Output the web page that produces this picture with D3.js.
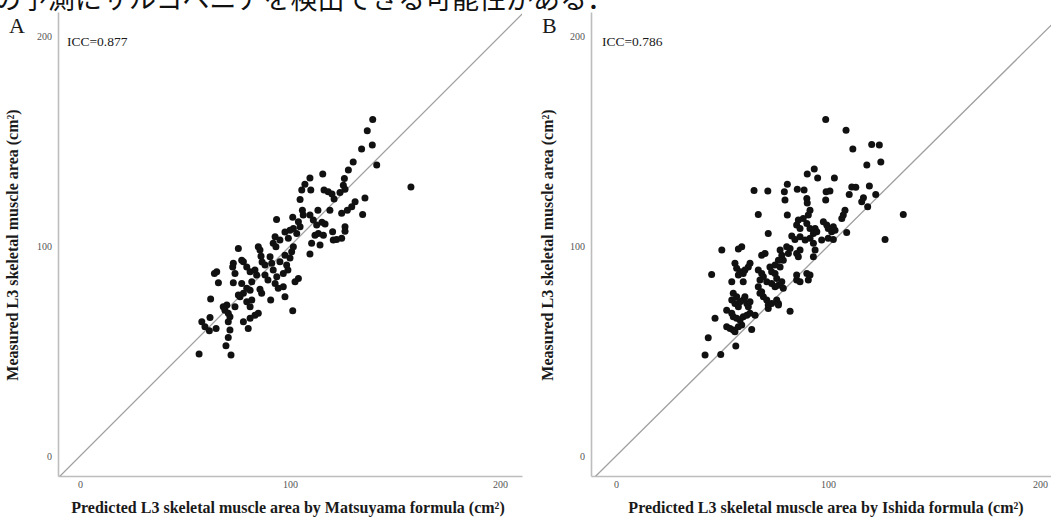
<!DOCTYPE html>
<html>
<head>
<meta charset="utf-8">
<script src="https://cdn.jsdelivr.net/npm/d3@7"></script>
<style>
body { margin: 0; background: #fff; }
svg { display: block; }
</style>
</head>
<body>
<svg id="chart" width="1051" height="519"></svg>
<script>
const caption = 'の予測にサルコペニアを検出できる可能性がある．'
const panelLetters = ['A', 'B']
const iccLabels = ['ICC=0.877', 'ICC=0.786']
const xTitles = [
	'Predicted L3 skeletal muscle area by Matsuyama formula (cm²)',
	'Predicted L3 skeletal muscle area by Ishida formula (cm²)'
]
const yTitle = 'Measured L3 skeletal muscle area (cm²)'
const tickValues = [0, 100, 200]

// [predicted, measured]
const matsuyama = [
	[139.4,160.3],[136.8,154.9],[139.2,148.1],[134.1,146.2],[141.3,138.6],[130.1,140.1],[127.8,136.2],[157.6,128.2],
	[115.6,134.3],[109.5,132.4],[107.1,129.5],[105.6,126.7],[109.9,126.7],[104.8,122.2],[125.9,132.2],[125.4,129],
	[126.2,127.1],[123.8,125.5],[116.2,126.7],[118.2,125.9],[120,124.8],[121,122.4],
	[135.7,122.9],[134.6,115],[131,121.1],[129.4,118.7],[127.3,117.1],[124.6,115.6],[119,117.1],[113.3,117.1],
	[105.9,117.1],[106.3,114.8],[101.3,113.7],[93.6,112.7],[109.5,114.8],[111.1,112.4],[112.7,110],[115.2,111.4],
	[116.7,110.5],[104,111.6],[104.8,109.2],[101.6,108.4],[103.2,106],[120.3,106.8],[120.6,102.9],[126.2,109.2],
	[126.2,107.1],[122.2,103.2],[124.6,103.7],[111.9,105.2],[113.5,106],[115.9,105.2],[114.3,100.5],[110.3,101.3],
	[109.5,96.2],[92.9,104.4],[92,101.3],[93.3,99.7],[99.2,103.7],[100.8,97.3],[101.6,99.7],[100,107.6],
	[97.6,106.7],[95.2,102.9],
	[84.9,99.7],[85.7,98.1],[86.2,95.2],[75.4,98.9],[90.5,94.9],[91.3,91.8],[95.2,92.5],[98.4,91],
	[96.8,87],[92,88.6],[93.7,85.4],[92.9,82.2],[94.4,79.9],[96.8,80.6],[97.6,75.9],[90.8,74.3],
	[86.5,77.5],[85.7,79.5],[104,84.6],[102.4,83],[88.1,86.2],[89.5,83.8],[83.3,88.6],[84.1,86.2],
	[81.8,83],[81,79],[73,91.8],[72.7,90],[73.8,87],[77.8,92.5],[79.4,90.1],[81,87.8],
	[77,93.3],[65.1,87.8],[64,87],[65.9,82.5],[73,82.5],[77,82.2],[79.4,79.9],[77.8,77.5],
	[76.2,75.9],[79.4,73.5],[81.8,74.3],[81,71.1],[62.2,74.8],[69.9,71.9],[69,69.5],[71.4,66.3],
	[73.8,71.1],[75.4,76.7],[84.9,68],[83.3,67.1],[81,65.6],[77.8,64],[80.1,60.8],[101.3,69.2],
	[61.9,66],[58,64],[59.5,61.6],[61.6,59.7],[64.8,60.8],[70.6,64],[71.4,60],[70.6,56.5],
	[69.5,52.5],[56.7,48.6],[71.9,48.1],[68.2,71.1],[70.6,68],
	[88.1,91],[86.7,92.4],[97.6,95.7],[100,94.3],[99,88.6]
]

const ishida = [
	[98.9,160.3],[108.5,155.2],[111.7,146.2],[120.6,148.4],[124.2,148.1],[124.9,140.1],[118.3,138.6],[135.5,115.1],
	[126.9,103.2],[93.5,136.7],[90.2,134.3],[95.1,132.4],[103,132.4],[80.8,129.5],[65.1,126.5],[71.6,126.3],
	[79.4,125.9],[79.7,121.9],[85.5,127.1],[88.7,126.7],[90,122.7],[90.2,120.5],[99.1,125.9],[100.9,126.3],
	[98.9,121.9],[111.2,128.2],[113.1,128],[119.5,128.6],[110,124.6],[116.7,123],[115.9,121.1],[118.7,118.7],
	[122.5,124.6],
	[67.1,115.1],[80.8,114.8],[91.5,117.1],[90.7,114.8],[88.3,113.2],[108,117.1],[107.2,114.8],[106.5,113.2],
	[86,112.4],[85.2,110],[86.8,108.4],[90,110.8],[91.5,108.4],[93.9,108.4],[94.7,106.8],[93.1,106],
	[97.8,111.6],[99.4,110],[100.1,108.4],[101.7,106.8],[103.3,107.6],[102.5,109.2],[108.8,106.5],[71.8,106],
	[82.9,104.8],[84.4,103.2],[86.8,104.4],[89.2,102.9],[91.5,103.7],[93.1,101.3],[93.9,98.1],[93.1,94.9],
	[97,102.9],[100.1,103.7],[102.5,103.2],[59.3,99.7],[57.7,98.6],[49.9,98.1],[68.7,95.7],[70.3,96.5],
	[77.4,98.1],[78.2,95.7],[78.9,93.3],[76.6,93.3],[75,91],[77.4,90.1],[80.5,99.7],[82.1,98.9],
	[81.3,96.5],[85.2,96.5],[86.8,98.1],[86,94.9],[56.1,91.8],[56.9,89.4],[58.5,87.8],[57.7,86.2],
	[63.2,91.8],[62.4,90.1],[60.8,88.6],[60,87],[45.1,86.5],[54.6,83],[60,83],[67.1,88.6],
	[68.7,87],[69.5,85.4],[67.9,83.8],[71.1,83],[72.6,90.1],[73.4,87.8],[75,87],[75.8,84.6],
	[73.4,82.2],[75,80.6],[76.6,81.4],[78.2,83],[78.9,79.9],[85.2,83.8],[86.8,83],[85.2,86.2],
	[90,87],[91.5,86.2],[90.7,83.8],
	[68.7,78.2],[69.5,75.9],[71.1,74.3],[71.8,71.9],[73.4,72.7],[75.8,74.3],[76.6,72.7],[67.1,80.6],
	[67.9,77.5],[71.8,70.3],[76.6,71.9],[82.1,69],[55.3,77.5],[56.9,75.9],[54.6,74.3],[56.1,72.7],
	[57.7,71.1],[58.5,73.5],[60,74.3],[61.7,72.7],[62.4,71.1],[63.2,73.5],[60.8,75.9],[52.2,69.5],
	[54.6,68],[55.3,66.3],[56.9,65.6],[58.5,64.8],[60,66.3],[61.7,67.1],[63.2,68],[65.6,67.1],
	[46.7,65.6],[52.2,61.6],[53.8,60.8],[55.3,60],[56.1,59.2],[57.7,61.6],[59.3,62.4],[64,60.3],
	[43.5,56.3],[56.5,52.4],[42,48.1],[49.4,48.4]
]

const plotTop = 12
const plotBottom = 476
const yDomain = [-9.5, 211.5]
const axisColor = '#bdbdbd'
const tickColor = '#555'
const textColor = '#1a1a1a'
const serif = '"Liberation Serif", "DejaVu Serif", serif'

const panels = [
	{ left: 58, right: 522, xDomain: [-10.5, 210.5], data: matsuyama, letterX: 9, iccX: 67, yTitleX: 18, xTitleX: 288 },
	{ left: 591, right: 1051.7, xDomain: [-11.8, 205.5], data: ishida, letterX: 542, iccX: 602, yTitleX: 553, xTitleX: 826 }
]

const svg = d3.select('#chart')

// cropped caption line from the page above the figure
svg.append('text')
	.attr('x', -6)
	.attr('y', 9)
	.attr('font-family', '"Noto Sans CJK JP", sans-serif')
	.attr('font-size', '27px')
	.attr('fill', '#111')
	.text(caption)

panels.forEach((p, i) => {
	const xScale = d3.scaleLinear().domain(p.xDomain).range([p.left, p.right])
	const yScale = d3.scaleLinear().domain(yDomain).range([plotBottom, plotTop])

	const g = svg.append('g').attr('class', 'panel')

	const xAxis = d3.axisBottom(xScale).tickValues(tickValues).tickSize(0).tickPadding(5)
	const yAxis = d3.axisLeft(yScale).tickValues(tickValues).tickSize(0).tickPadding(6)

	g.append('g')
		.attr('transform', `translate(0, ${plotBottom})`)
		.call(xAxis)
	g.append('g')
		.attr('transform', `translate(${p.left}, 0)`)
		.call(yAxis)

	g.selectAll('path.domain')
		.style('stroke', axisColor)
		.style('stroke-width', 1.6)
	g.selectAll('.tick text')
		.attr('font-family', serif)
		.attr('font-size', '10px')
		.attr('fill', tickColor)

	const clipId = 'clip' + i
	svg.append('clipPath').attr('id', clipId)
		.append('rect')
		.attr('x', p.left).attr('y', plotTop)
		.attr('width', p.right - p.left).attr('height', plotBottom - plotTop)

	// identity line
	const lo = Math.min(p.xDomain[0], yDomain[0])
	const hi = Math.max(p.xDomain[1], yDomain[1])
	g.append('line')
		.attr('clip-path', `url(#${clipId})`)
		.attr('x1', xScale(lo)).attr('y1', yScale(lo))
		.attr('x2', xScale(hi)).attr('y2', yScale(hi))
		.attr('stroke', '#a0a0a0')
		.attr('stroke-width', 1.3)

	g.selectAll('circle.pt')
		.data(p.data)
		.enter()
		.append('circle')
		.attr('class', 'pt')
		.attr('cx', d => xScale(d[0]))
		.attr('cy', d => yScale(d[1]))
		.attr('r', 3.5)
		.attr('fill', '#111')

	g.append('text')
		.attr('x', p.letterX)
		.attr('y', 33)
		.attr('font-family', serif)
		.attr('font-size', '22px')
		.attr('fill', textColor)
		.text(panelLetters[i])

	g.append('text')
		.attr('x', p.iccX)
		.attr('y', 46)
		.attr('font-family', serif)
		.attr('font-size', '13.5px')
		.attr('fill', textColor)
		.text(iccLabels[i])

	g.append('text')
		.attr('x', p.xTitleX)
		.attr('y', 513)
		.attr('text-anchor', 'middle')
		.attr('font-family', serif)
		.attr('font-weight', 'bold')
		.attr('font-size', '16px')
		.attr('fill', textColor)
		.text(xTitles[i])

	g.append('text')
		.attr('transform', `translate(${p.yTitleX}, 245) rotate(-90)`)
		.attr('text-anchor', 'middle')
		.attr('font-family', serif)
		.attr('font-weight', 'bold')
		.attr('font-size', '16px')
		.attr('fill', textColor)
		.text(yTitle)
})
</script>
</body>
</html>
